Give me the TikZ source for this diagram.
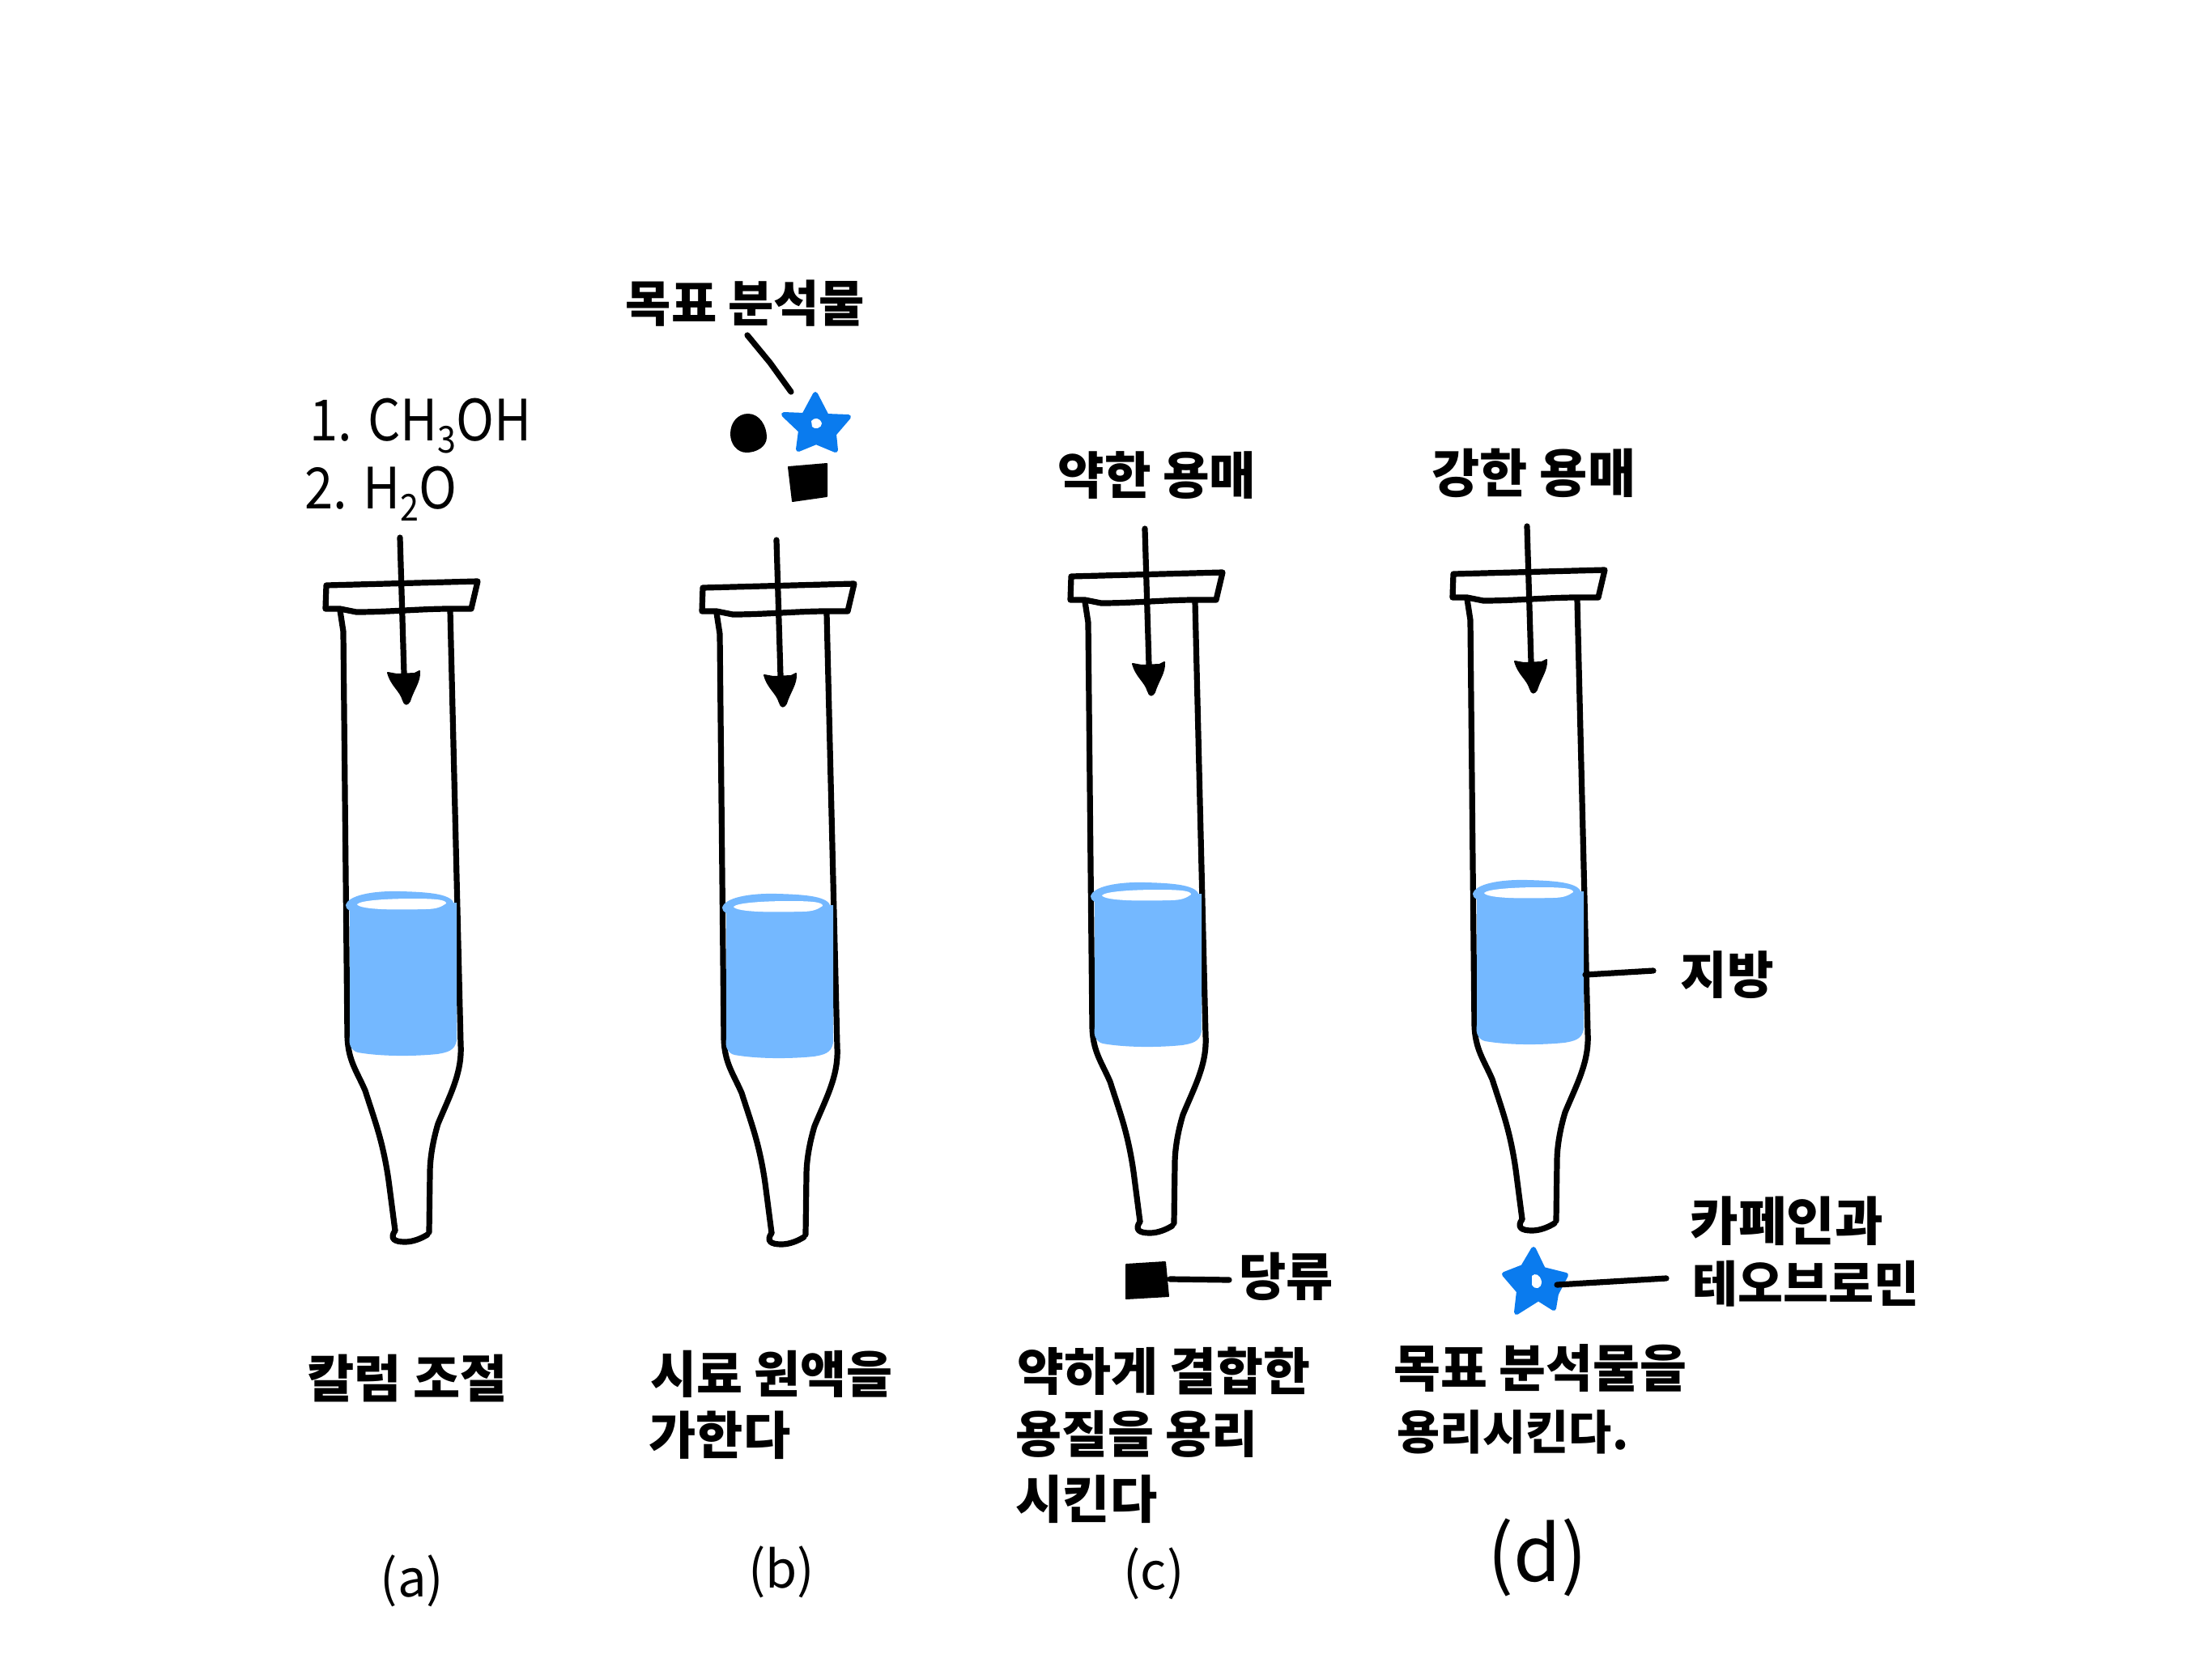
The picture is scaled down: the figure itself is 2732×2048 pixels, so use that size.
\documentclass[tikz,border=0pt]{standalone}
\usepackage{fontspec}
\setmainfont{Noto Sans CJK KR}
\definecolor{fatblue}{HTML}{74B8FF}
\definecolor{starblue}{HTML}{0A7BEE}
\tikzset{
  ink/.style={draw=black,line width=.072cm,line cap=round,line join=round},
  solidink/.style={fill=black,draw=black,line width=.02cm,line join=round},
  kor/.style={anchor=west,inner sep=0pt,font=\fontsize{#1}{20}\selectfont\bfseries},
  lat/.style={anchor=west,inner sep=0pt,font=\fontsize{20}{24}\selectfont},
  tag/.style={inner sep=0pt,font=\fontsize{18}{22}\selectfont},
  starshape/.style={fill=starblue,draw=starblue,line width=.06cm,line join=round}
}
\newcommand{\sorbtube}[3]{%
  \begin{scope}[shift={(#2,#3)}]
    \draw[ink] (403,723) -- (590,718) -- (582,752) -- (556,752)
      .. controls (520,752) and (480,756) .. (440,756) -- (420,752) -- (402,752) -- cycle;
    \draw[ink] (420,754) -- (424,780) -- (429,1280)
      .. controls (430,1310) and (440,1322) .. (451,1347)
      .. controls (460,1375) and (466,1392) .. (471,1412)
      .. controls (476,1432) and (479,1450) .. (481,1466)
      -- (488,1520);
    \draw[ink] (488,1520) .. controls (481,1530) and (487,1534) .. (500,1534)
      .. controls (510,1534) and (520,1530) .. (528,1525);
    \draw[ink] (556,754) -- (569,1290)
      .. controls (571,1325) and (556,1352) .. (541,1388)
      .. controls (535,1408) and (531,1430) .. (531,1449)
      -- (530,1522);
    \fill[fatblue] (432,1115) -- (564,1115) -- (564,1285)
      .. controls (562,1298) and (552,1300) .. (540,1302)
      .. controls (510,1305) and (470,1305) .. (442,1300)
      .. controls (434,1298) and (430,1290) .. (432,1280) -- cycle;
    \fill[fatblue] (427,1118) .. controls (430,1106) and (460,1100) .. (495,1101)
      .. controls (530,1102) and (560,1104) .. (561,1118)
      .. controls (561,1128) and (540,1128) .. (495,1128)
      .. controls (450,1128) and (427,1130) .. (427,1118) -- cycle;
    \fill[white] (441,1117) .. controls (445,1112) and (480,1110) .. (510,1110)
      .. controls (535,1110) and (552,1111) .. (551,1116)
      .. controls (545,1120) and (540,1123) .. (525,1123)
      .. controls (490,1124) and (445,1124) .. (441,1117) -- cycle;
    \coordinate (#1start) at (494,664);
    \coordinate (#1neck) at (499,832);
    \draw[ink] (#1start) -- (#1neck);
    \filldraw[black,line width=.02cm,line join=round] (479,831) -- (490,833) -- (512,832) -- (518,829)
      .. controls (519,842) and (510,852) .. (506,866)
      .. controls (503,871) and (500,871) .. (498,865)
      .. controls (494,852) and (484,848) .. (479,831) -- cycle;
  \end{scope}}
\begin{document}
\begin{tikzpicture}[x=.01cm,y=-.01cm]
\useasboundingbox (0,0) rectangle (2732,2048);
\fill[white] (0,0) rectangle (2732,2048);

\sorbtube{a}{0}{0}
\sorbtube{b}{465}{3}
\sorbtube{c}{920}{-11}
\sorbtube{d}{1392}{-14}

% reagent labels
\node[lat] (reagent1) at (382,526) {\scalebox{.9}[1]{1. CH\raisebox{-.4ex}{\fontsize{13}{13}\selectfont 3}OH}};
\node[lat] (reagent2) at (376,610) {\scalebox{.9}[1]{2. H\raisebox{-.4ex}{\fontsize{13}{13}\selectfont 2}O}};
\node[kor=17.4] (analyte) at (772,375) {목표 분석물};
\node[kor=17.8] (weak) at (1306,587) {약한 용매};
\node[kor=18.3] (strong) at (1768,584) {강한 용매};

% analytes before loading
\coordinate (analyteLineA) at (923,414);
\coordinate (analyteLineB) at (951,448);
\coordinate (analyteLineC) at (977,484);
\draw[ink] (analyteLineA) -- (analyteLineB) -- (analyteLineC);
\fill[black] (924,511) .. controls (938,511) and (947,526) .. (947,540)
  .. controls (947,552) and (934,559) .. (922,559)
  .. controls (910,559) and (902,548) .. (902,536)
  .. controls (902,522) and (911,511) .. (924,511) -- cycle;
\draw[starshape] (1007,487) -- (1021,514) -- (1048,515) -- (1030,536) -- (1032,556)
  -- (1008,546) -- (986,555) -- (989,532) -- (968,512) -- (993,513) -- cycle;
\fill[white] (1002,520) .. controls (1006,515) and (1013,516) .. (1015,523)
  .. controls (1015,529) and (1006,531) .. (1003,527) -- cycle;
\draw[solidink] (974,577) -- (1021,573) -- (1021,613) -- (979,619) -- cycle;

% eluted sugar
\draw[solidink] (1391,1562) -- (1439,1559) -- (1443,1601) -- (1391,1604) -- cycle;
\coordinate (sugarA) at (1445,1580);
\coordinate (sugarB) at (1518,1581);
\draw[ink] (sugarA) -- (sugarB);
\node[kor=18] (sugar) at (1530,1577) {당류};

% eluted target
\draw[starshape] (1894,1543) -- (1906,1568) -- (1934,1575) -- (1922,1598) -- (1919,1616)
  -- (1900,1604) -- (1873,1621) -- (1876,1595) -- (1858,1574) -- (1881,1565) -- cycle;
\fill[white] (1892,1576) .. controls (1896,1572) and (1902,1574) .. (1904,1583)
  .. controls (1904,1592) and (1896,1594) .. (1892,1587) -- cycle;
\coordinate (targetA) at (1923,1587);
\coordinate (targetB) at (2058,1579);
\draw[ink] (targetA) -- (targetB);
\node[kor=18.4] (caffeine) at (2087,1508) {카페인과};
\node[kor=17.3] (theobromine) at (2090,1586) {테오브로민};

% fat
\coordinate (fatA) at (1958,1204);
\coordinate (fatB) at (2042,1199);
\draw[ink] (fatA) -- (fatB);
\node[kor=17.8] (fat) at (2075,1204) {지방};

% step captions
\node[kor=18] (capA) at (379,1702) {칼럼 조절};
\node[kor=17.6] (capB1) at (803,1697) {시료 원액을};
\node[kor=18] (capB2) at (801,1773) {가한다};
\node[kor=17.9] (capC1) at (1256,1694) {약하게 결합한};
\node[kor=17.6] (capC2) at (1254,1771) {용질을 용리};
\node[kor=18] (capC3) at (1254,1852) {시킨다};
\node[kor=17.9] (capD1) at (1721,1690) {목표 분석물을};
\node[kor=16.4] (capD2) at (1725,1769) {용리시킨다.};

% panel tags
\node[tag] (tagA) at (509,1953) {(a)};
\node[tag] (tagB) at (965,1942) {(b)};
\node[tag] (tagC) at (1425,1944) {(c)};
\node[tag,font=\fontsize{27}{30}\selectfont] (tagD) at (1899,1924) {(d)};
\end{tikzpicture}
\end{document}
